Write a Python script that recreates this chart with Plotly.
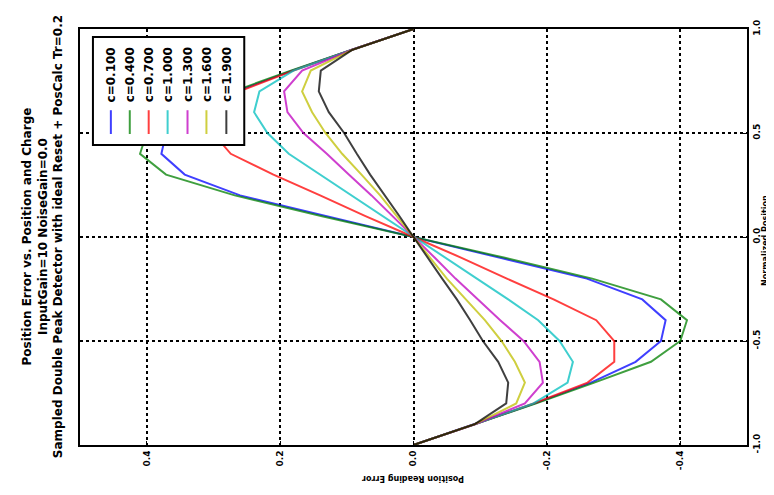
import plotly.graph_objects as go

# Normalized position samples
position = [-1.0, -0.9, -0.8, -0.7, -0.6, -0.5, -0.4, -0.3, -0.2, -0.1, 0.0,
            0.1, 0.2, 0.3, 0.4, 0.5, 0.6, 0.7, 0.8, 0.9, 1.0]

# Position reading error per charge c
err_c0100 = [0.0, -0.092, -0.182, -0.266, -0.333, -0.371, -0.378, -0.343, -0.260, -0.130, 0.0,
             0.130, 0.260, 0.343, 0.378, 0.371, 0.333, 0.266, 0.182, 0.092, 0.0]
err_c0400 = [0.0, -0.092, -0.184, -0.271, -0.356, -0.400, -0.410, -0.371, -0.268, -0.137, 0.0,
             0.137, 0.268, 0.371, 0.410, 0.400, 0.356, 0.271, 0.184, 0.092, 0.0]
err_c0700 = [0.0, -0.092, -0.180, -0.261, -0.301, -0.301, -0.274, -0.210, -0.140, -0.072, 0.0,
             0.072, 0.140, 0.210, 0.274, 0.301, 0.301, 0.261, 0.180, 0.092, 0.0]
err_c1000 = [0.0, -0.092, -0.180, -0.231, -0.239, -0.219, -0.187, -0.142, -0.095, -0.048, 0.0,
             0.048, 0.095, 0.142, 0.187, 0.219, 0.239, 0.231, 0.180, 0.092, 0.0]
err_c1300 = [0.0, -0.092, -0.167, -0.194, -0.189, -0.165, -0.130, -0.097, -0.063, -0.032, 0.0,
             0.032, 0.063, 0.097, 0.130, 0.165, 0.189, 0.194, 0.167, 0.092, 0.0]
err_c1600 = [0.0, -0.092, -0.154, -0.167, -0.152, -0.132, -0.107, -0.078, -0.050, -0.025, 0.0,
             0.025, 0.050, 0.078, 0.107, 0.132, 0.152, 0.167, 0.154, 0.092, 0.0]
err_c1900 = [0.0, -0.092, -0.139, -0.142, -0.127, -0.104, -0.085, -0.065, -0.043, -0.021, 0.0,
             0.021, 0.043, 0.065, 0.085, 0.104, 0.127, 0.142, 0.139, 0.092, 0.0]

series_labels = ["c=0.100", "c=0.400", "c=0.700", "c=1.000", "c=1.300", "c=1.600", "c=1.900"]
series_values = [err_c0100, err_c0400, err_c0700, err_c1000, err_c1300, err_c1600, err_c1900]
series_colors = ["#0000ff", "#008000", "#ff0000", "#00bfbf", "#bf00bf", "#bfbf00", "#000000"]

x_tickvals = [0.4, 0.2, 0.0, -0.2, -0.4]
x_ticktext = ["0.4", "0.2", "0.0", "-0.2", "-0.4"]
y_tickvals = [1.0, 0.5, 0.0, -0.5, -1.0]
y_ticktext = ["1.0", "0.5", "0.0", "-0.5", "-1.0"]

title_lines = ["Position Error vs. Position and Charge",
               "InputGain=10 NoiseGain=0.0",
               "Sampled Double Peak Detector with ideal Reset + PosCalc Tr=0.2"]

FONT = "DejaVu Sans"
OFF = 8  # page body margin
W, H = 766, 487
L, T = 72, 17
PW, PH = 670, 420
R, B = W - L - PW, H - T - PH

def px(xp):
    return (xp - OFF - L) / PW

def py(yp):
    return (T + PH + OFF - yp) / PH

fig = go.Figure()
for lab, vals, col in zip(series_labels, series_values, series_colors):
    fig.add_trace(go.Scatter(x=vals, y=position, mode="lines", name=lab,
                             line=dict(color=col, width=2), opacity=0.75,
                             showlegend=False))

axis_common = dict(showline=True, linecolor="black", linewidth=2, mirror=True,
                   showgrid=True, gridcolor="black", gridwidth=1.5, griddash="dot",
                   zeroline=False, ticks="inside", ticklen=4, tickcolor="black",
                   tickfont=dict(family=FONT, size=9, color="black", weight="bold"),
                   tickangle=-90)

fig.update_layout(
    width=W, height=H,
    margin=dict(l=L, r=R, t=T, b=B),
    paper_bgcolor="white", plot_bgcolor="white",
    xaxis=dict(range=[0.5, -0.5], tickvals=x_tickvals, ticktext=x_ticktext, **axis_common),
    yaxis=dict(range=[-1.0, 1.0], side="right", tickvals=y_tickvals, ticktext=y_ticktext,
               **axis_common),
    showlegend=False,
)

annotations = []
# Title (rotated)
annotations.append(dict(text="<br>".join(title_lines), xref="paper", yref="paper",
                        x=px(42), y=py(235), xanchor="center", yanchor="middle",
                        textangle=-90, showarrow=False,
                        font=dict(family=FONT, size=12, color="black", weight="bold")))
# Axis titles
annotations.append(dict(text="Position Reading Error", xref="paper", yref="paper",
                        x=px(415), y=py(479), xanchor="center", yanchor="middle",
                        textangle=180, showarrow=False,
                        font=dict(family=FONT, size=8, color="black", weight="bold")))
annotations.append(dict(text="Normalized Position", xref="paper", yref="paper",
                        x=px(769), y=py(238), xanchor="center", yanchor="middle",
                        textangle=-90, showarrow=False,
                        font=dict(family=FONT, size=8, color="black", weight="bold")))

shapes = []
# Legend box
shapes.append(dict(type="rect", xref="paper", yref="paper", layer="above",
                   x0=px(93), x1=px(245), y0=py(142), y1=py(33),
                   fillcolor="white", line=dict(color="black", width=2)))
legend_x = [111, 130, 149, 168, 188, 207, 227]
for xp, lab, col in zip(legend_x, series_labels, series_colors):
    shapes.append(dict(type="line", xref="paper", yref="paper", layer="above",
                       x0=px(xp), x1=px(xp), y0=py(131), y1=py(107),
                       line=dict(color=col, width=2), opacity=0.75))
    annotations.append(dict(text=lab, xref="paper", yref="paper",
                            x=px(xp), y=py(71), xanchor="center", yanchor="middle",
                            textangle=-90, showarrow=False,
                            font=dict(family=FONT, size=12, color="black", weight="bold")))

fig.update_layout(shapes=shapes, annotations=annotations)
fig.write_html("out.html")
